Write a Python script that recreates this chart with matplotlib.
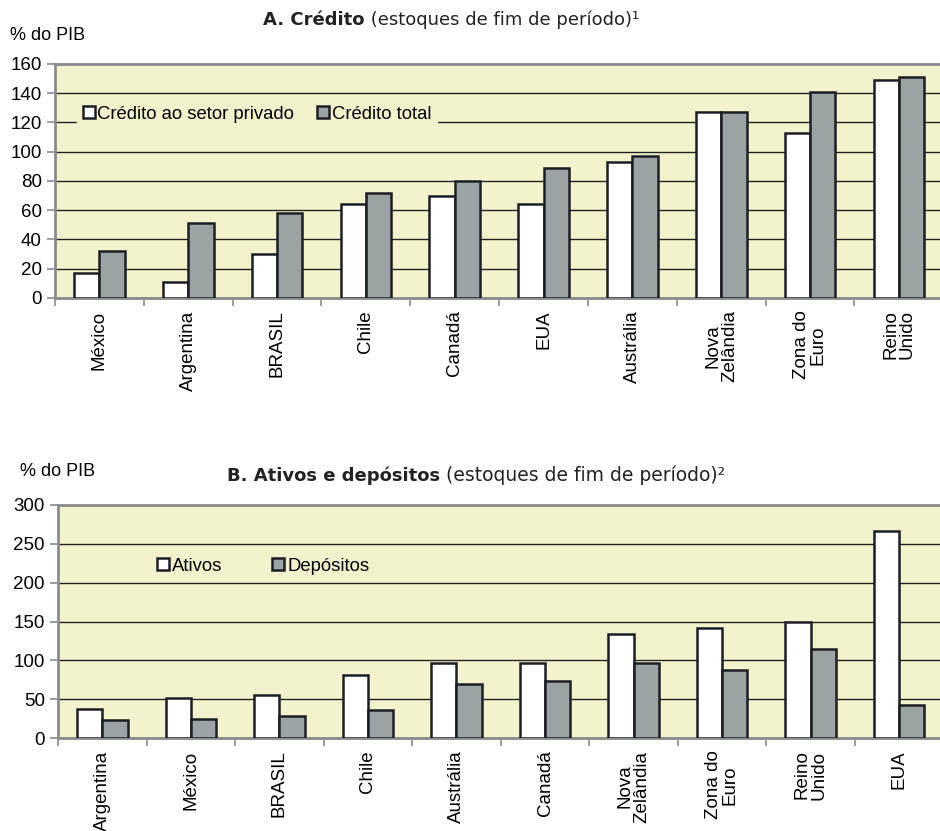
import numpy as np
import matplotlib.pyplot as plt

# painel A - credito
paises_a = ["México", "Argentina", "BRASIL", "Chile", "Canadá", "EUA",
            "Austrália", "Nova\nZelândia", "Zona do\nEuro", "Reino\nUnido"]
credito_privado = [17, 11, 30, 64, 70, 64, 93, 127, 113, 149]
credito_total = [32, 51, 58, 72, 80, 89, 97, 127, 141, 151]

# painel B - ativos e depositos
paises_b = ["Argentina", "México", "BRASIL", "Chile", "Austrália", "Canadá",
            "Nova\nZelândia", "Zona do\nEuro", "Reino\nUnido", "EUA"]
ativos = [37, 51, 55, 81, 97, 97, 134, 141, 149, 266]
depositos = [23, 25, 28, 36, 69, 74, 96, 87, 115, 42]

BG = "#f2f3cc"
GREY = "#9ca3a5"
EDGE = "#1b1f24"
AX = "#8a8c8c"
TICKFONT = ["Liberation Sans", "DejaVu Sans"]
TXT = "#222222"


def painel(ax, cats, v1, v2, ymax, step, lab1, lab2, leg_anchor, colsp):
    x = np.arange(len(cats))
    w = 0.285
    ax.set_facecolor(BG)
    ax.bar(x - w / 2, v1, w, color="white", edgecolor=EDGE, linewidth=1.8,
           label=lab1, zorder=3)
    ax.bar(x + w / 2, v2, w, color=GREY, edgecolor=EDGE, linewidth=1.8,
           label=lab2, zorder=3)
    ax.set_xlim(-0.5, len(cats) - 0.5)
    ax.set_ylim(0, ymax)
    ax.set_yticks(np.arange(0, ymax + 1, step))
    ax.yaxis.grid(True, color="#222222", linewidth=1.0, zorder=1)
    ax.set_axisbelow(True)
    # ticks between the groups
    ax.set_xticks(np.arange(len(cats) + 1) - 0.5)
    ax.set_xticklabels([])
    ax.set_xticks(x, minor=True)
    ax.set_xticklabels(cats, minor=True, rotation=90, fontsize=13.5,
                       family=TICKFONT, linespacing=0.95, va="top")
    ax.tick_params(axis="x", which="minor", length=0, pad=9)
    ax.tick_params(axis="x", which="major", length=6, color=AX, width=1.2)
    ax.tick_params(axis="y", length=6, color=AX, width=1.2, labelsize=13.5)
    for t in ax.get_yticklabels():
        t.set_family(TICKFONT)
    for s in ["left", "bottom", "top"]:
        ax.spines[s].set_color(AX)
        ax.spines[s].set_linewidth(2)
    ax.spines["right"].set_visible(False)
    leg = ax.legend(loc="center left", bbox_to_anchor=leg_anchor, ncol=2,
                    frameon=True, facecolor=BG, edgecolor=BG, framealpha=1,
                    prop={"family": TICKFONT, "size": 13.3},
                    handlelength=0.65, handleheight=0.65, handletextpad=0.15,
                    columnspacing=colsp, borderpad=0.3, fancybox=False)
    leg.set_zorder(5)
    return ax


fig = plt.figure(figsize=(9.4, 8.31), dpi=100)

ax1 = fig.add_axes([0.0585, 0.6414, 0.945, 0.2816])
painel(ax1, paises_a, credito_privado, credito_total, 160, 20,
       "Crédito ao setor privado", "Crédito total", (0.0145, 0.786), 1.25)

ax2 = fig.add_axes([0.0617, 0.1119, 0.942, 0.2804])
painel(ax2, paises_b, ativos, depositos, 300, 50,
       "Ativos", "Depósitos", (0.0956, 0.738), 2.7)

# titulos
fig.text(0.011, 0.957, "% do PIB", fontsize=13, family=TICKFONT,
         ha="left", va="center")
fig.text(0.388, 0.976, "A. Crédito", fontsize=13, fontweight="bold",
         ha="right", va="center", color=TXT)
fig.text(0.388, 0.976, " (estoques de fim de período)¹", fontsize=13,
         ha="left", va="center", color=TXT)

fig.text(0.021, 0.433, "% do PIB", fontsize=13, family=TICKFONT,
         ha="left", va="center")
fig.text(0.468, 0.428, "B. Ativos e depósitos", fontsize=13,
         fontweight="bold", ha="right", va="center", color=TXT)
fig.text(0.468, 0.428, " (estoques de fim de período)²", fontsize=13.5,
         ha="left", va="center", color=TXT)

fig.savefig("out.png", dpi=100)
